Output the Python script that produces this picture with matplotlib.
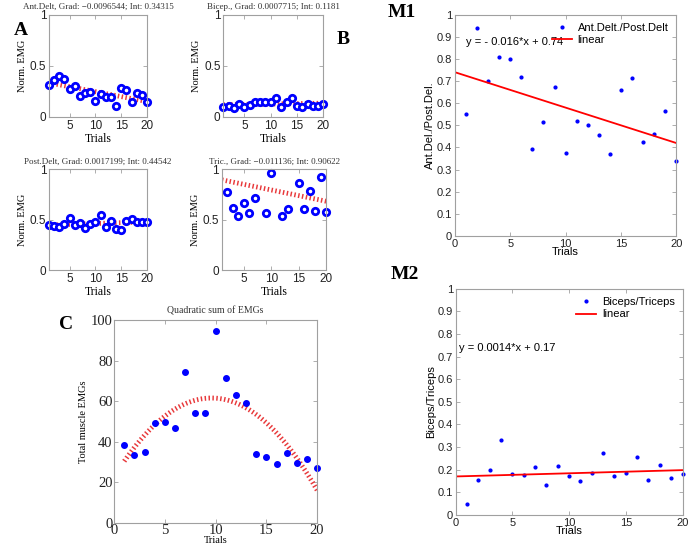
# EMG panels (A, B, C) and muscle ratio panels (M1, M2)

import numpy as np
import matplotlib.pyplot as plt

trials = np.arange(1, 21)

# normalised EMG per muscle
ant_delt = [0.31, 0.36, 0.40, 0.37, 0.27, 0.30, 0.20, 0.23, 0.24, 0.16,
            0.22, 0.19, 0.19, 0.11, 0.28, 0.26, 0.15, 0.23, 0.21, 0.15]
bicep = [0.10, 0.11, 0.09, 0.13, 0.10, 0.12, 0.15, 0.15, 0.15, 0.15,
         0.18, 0.10, 0.15, 0.18, 0.11, 0.10, 0.13, 0.11, 0.11, 0.13]
post_delt = [0.45, 0.44, 0.43, 0.46, 0.52, 0.45, 0.47, 0.42, 0.46, 0.48,
             0.55, 0.43, 0.49, 0.41, 0.40, 0.49, 0.51, 0.48, 0.48, 0.48]
tric = [np.nan, 0.77, 0.62, 0.54, 0.67, 0.57, 0.72, np.nan, 0.57, 0.96,
        np.nan, 0.54, 0.61, np.nan, 0.86, 0.61, 0.78, 0.59, 0.92, 0.58]

# linear fits (gradient, intercept) as given in the titles
fits = {
    "ant": (-0.0096544, 0.34315),
    "bic": (0.0007715, 0.1181),
    "post": (0.0017199, 0.44542),
    "tric": (-0.011136, 0.90622),
}

# quadratic sum of EMGs
quad_sum = [38.5, 33.5, 35.0, 49.5, 50.0, 47.0, 74.5, 54.0, 54.0, 94.5,
            71.5, 63.0, 59.0, 34.0, 32.5, 29.0, 34.5, 29.5, 31.5, 27.0]
quad_coef = [-0.42, 8.07, 22.8]

# ratios
ant_post_ratio = [0.55, 0.94, 0.70, 0.81, 0.80, 0.72, 0.395, 0.515, 0.675, 0.375,
                  0.52, 0.50, 0.455, 0.37, 0.66, 0.715, 0.425, 0.46, 0.565, 0.34]
bic_tric_ratio = [0.05, 0.155, 0.198, 0.33, 0.18, 0.175, 0.21, 0.13, 0.215, 0.17,
                  0.152, 0.187, 0.275, 0.17, 0.187, 0.255, 0.153, 0.222, 0.162, 0.183]
m1_fit = (-0.016, 0.74)
m2_fit = (0.0014, 0.17)

SERIF = "Liberation Serif"
SANS = "Liberation Sans"
FIT_RED = "#e8383a"

fig = plt.figure(figsize=(7, 5.46), dpi=100)


def style_axes(ax, tick_font, tick_size, pad=2):
    for sp in ax.spines.values():
        sp.set_color("#a0a0a0")
        sp.set_linewidth(0.8)
    ax.tick_params(direction="in", top=True, right=True, length=3,
                   width=0.6, color="#a0a0a0", labelsize=tick_size, pad=pad)
    for lab in ax.get_xticklabels() + ax.get_yticklabels():
        lab.set_fontfamily(tick_font)
        lab.set_color("#222222")


def small_panel(rect, values, fit, title):
    ax = fig.add_axes(rect)
    grad, inter = fit
    xs = np.array([1, 20])
    ax.plot(xs, grad * xs + inter, color=FIT_RED, lw=3.5,
            linestyle=(0, (0.3, 0.5)))
    ax.plot(trials, values, "o", color="blue", mfc="white", ms=4.6, mew=2.0,
            clip_on=False)
    ax.set_xlim(1, 20)
    ax.set_ylim(0, 1)
    ax.set_xticks([5, 10, 15, 20])
    ax.set_yticks([0, 0.5, 1])
    ax.set_yticklabels(["0", "0.5", "1"])
    ax.set_title(title, fontsize=6.5, family=SERIF, color="#333333", pad=4)
    ax.set_ylabel("Norm. EMG", fontsize=7.5, family=SERIF, labelpad=2)
    ax.set_xlabel("Trials", fontsize=8.5, family=SERIF, labelpad=1)
    style_axes(ax, SANS, 8.5)
    return ax


small_panel([0.070, 0.786, 0.140, 0.187], ant_delt, fits["ant"],
            "Ant.Delt, Grad: \u22120.0096544; Int: 0.34315")
small_panel([0.319, 0.786, 0.143, 0.187], bicep, fits["bic"],
            "Bicep., Grad: 0.0007715; Int: 0.1181")
small_panel([0.070, 0.505, 0.140, 0.185], post_delt, fits["post"],
            "Post.Delt, Grad: 0.0017199; Int: 0.44542")
small_panel([0.317, 0.505, 0.149, 0.185], tric, fits["tric"],
            "Tric., Grad: \u22120.011136; Int: 0.90622")

# panel C
axc = fig.add_axes([0.163, 0.042, 0.290, 0.372])
xq = np.linspace(1, 20, 100)
axc.plot(xq, np.polyval(quad_coef, xq), color=FIT_RED, lw=3.5,
         linestyle=(0, (0.3, 0.5)))
axc.plot(trials, quad_sum, "o", color="blue", ms=4, clip_on=False)
axc.set_xlim(0, 20)
axc.set_ylim(0, 100)
axc.set_xticks([0, 5, 10, 15, 20])
axc.set_yticks([0, 20, 40, 60, 80, 100])
axc.set_title("Quadratic sum of EMGs", fontsize=7, family=SERIF, color="#333333", pad=5)
axc.set_ylabel("Total muscle EMGs", fontsize=7.5, family=SERIF, labelpad=2)
axc.set_xlabel("Trials", fontsize=7.5, family=SERIF, labelpad=-1)
style_axes(axc, SERIF, 10.5, pad=1)


def ratio_panel(rect, values, fit, label, ylabel, eq, eq_pos):
    ax = fig.add_axes(rect)
    grad, inter = fit
    xs = np.array([0, 20])
    ax.plot(trials, values, ".", color="blue", ms=4, label=label, clip_on=False)
    ax.plot(xs, grad * xs + inter, color="red", lw=1.3, label="linear")
    ax.set_xlim(0, 20)
    ax.set_ylim(0, 1)
    ax.set_xticks([0, 5, 10, 15, 20])
    ax.set_yticks(np.round(np.arange(0, 1.01, 0.1), 1))
    ax.set_yticklabels(["0"] + ["%.1f" % v for v in np.arange(0.1, 0.95, 0.1)] + ["1"])
    ax.set_ylabel(ylabel, fontsize=8, family=SANS, labelpad=1)
    ax.set_xlabel("Trials", fontsize=8, family=SANS, labelpad=-1)
    ax.text(eq_pos[0], eq_pos[1], eq, fontsize=8, family=SANS)
    ax.legend(loc="upper right", frameon=False,
              prop={"family": SANS, "size": 8}, handlelength=1.8,
              borderaxespad=0.3, labelspacing=0.25, handletextpad=0.5)
    style_axes(ax, SANS, 8)
    return ax


ratio_panel([0.650, 0.568, 0.316, 0.405], ant_post_ratio, m1_fit,
            "Ant.Delt./Post.Delt", "Ant.Del./Post.Del.",
            "y = - 0.016*x + 0.74", (1.0, 0.865))
ratio_panel([0.651, 0.057, 0.324, 0.414], bic_tric_ratio, m2_fit,
            "Biceps/Triceps", "Biceps/Triceps",
            "y = 0.0014*x + 0.17", (0.3, 0.725))

# panel letters
for txt, x, y in [("A", 0.020, 0.945), ("B", 0.481, 0.927), ("C", 0.084, 0.405),
                  ("M1", 0.554, 0.978), ("M2", 0.558, 0.497)]:
    fig.text(x, y, txt, fontsize=14, fontweight="bold", family=SERIF, va="center")

fig.savefig("out.png", dpi=100)
